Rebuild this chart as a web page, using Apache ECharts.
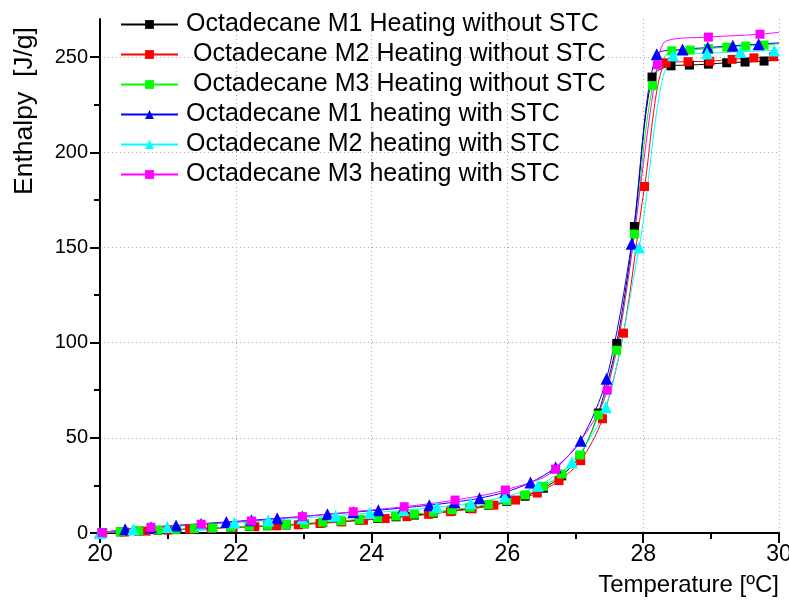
<!DOCTYPE html>
<html>
<head>
<meta charset="utf-8">
<script src="https://cdn.jsdelivr.net/npm/echarts@6/dist/echarts.min.js"></script>
<style>html,body{margin:0;padding:0;background:#fff}#c{width:789px;height:603px}</style>
</head>
<body>
<div id="c"></div>
<script>
// ---- data ----
const seriesNames = [
  'Octadecane M1 Heating without STC',
  ' Octadecane M2 Heating without STC',
  ' Octadecane M3 Heating without STC',
  'Octadecane M1 heating with STC',
  'Octadecane M2 heating with STC',
  'Octadecane M3 heating with STC'
];
// marker points
const m1NoX = [20.03,20.30,20.57,20.85,21.12,21.39,21.66,21.93,22.20,22.47,22.74,23.01,23.28,23.55,23.82,24.09,24.36,24.63,24.91,25.18,25.45,25.72,25.99,26.26,26.53,26.80,27.07,27.34,27.61,27.87,28.13,28.41,28.68,28.96,29.23,29.50,29.78];
const m1NoY = [0.2,0.6,1.0,1.4,1.8,2.2,2.6,3.0,3.4,3.8,4.2,4.8,5.4,6.1,6.8,7.6,8.5,9.4,10.4,11.6,12.9,14.6,16.6,19.3,23.5,30,40.5,63,99.6,161,239.5,245.4,245.8,246.3,247,247.4,247.9];
const m2NoX = [20.04,20.36,20.68,21.00,21.32,21.64,21.96,22.28,22.60,22.92,23.24,23.56,23.88,24.20,24.52,24.84,25.16,25.48,25.80,26.12,26.44,26.76,27.08,27.40,27.71,28.02,28.34,28.66,28.98,29.31,29.63,29.92];
const m2NoY = [0.1,0.5,1.0,1.5,2.0,2.4,2.9,3.3,3.8,4.3,5.0,5.8,6.7,7.6,8.6,9.8,11.2,12.7,14.6,17.3,21,27.5,38,60,105,182,247,247.6,247.8,248.8,249.6,250.2];
const m3NoX = [20.03,20.30,20.57,20.85,21.12,21.39,21.66,21.93,22.20,22.47,22.74,23.01,23.28,23.55,23.82,24.09,24.36,24.63,24.91,25.18,25.45,25.72,25.99,26.26,26.53,26.80,27.07,27.34,27.61,27.87,28.14,28.42,28.69,28.96,29.23,29.51,29.78];
const m3NoY = [0.2,0.7,1.1,1.5,1.9,2.3,2.7,3.1,3.6,4.0,4.4,5.0,5.7,6.4,7.2,8.0,8.9,9.9,10.9,12.2,13.5,14.9,17,20,24.5,31,41,62,96,157,235,253.3,253.7,254.5,255.2,255.8,256.3];
const m1StcX = [20.00,20.37,20.75,21.12,21.49,21.86,22.23,22.61,22.98,23.35,23.73,24.10,24.47,24.85,25.22,25.59,25.97,26.34,26.71,27.08,27.46,27.83,28.20,28.58,28.95,29.32,29.70];
const m1StcY = [0,2.0,3.0,4.0,4.9,5.8,6.7,7.7,8.7,9.8,10.9,12.0,13.2,14.6,16.2,18.3,21.5,26.5,34.5,48.5,81,152,251.5,254,255,256,256.8];
const m2StcX = [20.00,20.49,20.99,21.49,21.98,22.48,22.98,23.47,23.97,24.47,24.96,25.46,25.96,26.45,26.95,27.45,27.94,28.44,28.94,29.43,29.93];
const m2StcY = [0,2.0,3.2,4.3,5.4,6.6,7.8,9.1,10.5,12.0,13.6,15.6,19.0,24.8,37,66,150,251,252,252.8,253.5];
const m3StcX = [20.03,20.75,21.49,22.23,22.98,23.73,24.48,25.23,25.97,26.71,27.47,28.21,28.96,29.72];
const m3StcY = [0.2,3.0,4.6,6.3,8.6,11.2,13.8,17.3,22.6,33.5,75,246,260.5,262];

// points on the drawn curves that carry no marker (curve knee / curve end at 30 °C)
const curveOnlyX = [[30],[30],[30],[30],[30],[28.34,30]];
const curveOnlyY = [[248.5],[251],[257],[257.5],[254],[258.5,263]];

const xTicks = [20,22,24,26,28,30];
const yTicks = [0,50,100,150,200,250];
const yMinorTicks = [25,75,125,175,225];

const colors = ['#000000','#ff0000','#00ff00','#0000ff','#00ffff','#ff00ff'];
const symbols = ['rect','rect','rect','triangle','triangle','rect'];
const xs = [m1NoX,m2NoX,m3NoX,m1StcX,m2StcX,m3StcX];
const ys = [m1NoY,m2NoY,m3NoY,m1StcY,m2StcY,m3StcY];

function buildData(i){
  const pts = xs[i].map((v,k)=>({value:[v, ys[i][k]]}));
  curveOnlyX[i].forEach((v,k)=>pts.push({value:[v, curveOnlyY[i][k]], symbol:'none'}));
  pts.sort((a,b)=>a.value[0]-b.value[0]);
  return pts;
}

const chart = echarts.init(document.getElementById('c'));
const series = seriesNames.map((n,i)=>({
  name: n,
  type: 'line',
  data: buildData(i),
  smooth: 0.3,
  symbol: symbols[i],
  symbolSize: symbols[i]==='triangle' ? 12 : 9,
  showAllSymbol: true,
  clip: false,
  lineStyle: {color: colors[i], width: 1},
  itemStyle: {color: colors[i]},
  emphasis: {disabled: true},
  animation: false
}));

chart.setOption({
  animation: false,
  grid: {left: 100, right: 10, top: 19, bottom: 70, containLabel: false, outerBoundsMode: 'none'},
  legend: {
    orient: 'vertical',
    left: 115, top: 7,
    itemWidth: 57, itemHeight: 11, itemGap: 5,
    textStyle: {fontFamily: 'Liberation Sans, Arial', fontSize: 25, color: '#000', lineHeight: 24, padding: [0,0,0,3]},
    data: seriesNames
  },
  xAxis: {
    type: 'value', min: 20, max: 30, interval: 2,
    name: 'Temperature [ºC]',
    nameLocation: 'end', nameGap: 0,
    nameTextStyle: {fontFamily: 'Liberation Sans, Arial', fontSize: 24, color: '#000', align: 'right', verticalAlign: 'top', padding: [40,0,0,0]},
    axisLine: {lineStyle: {color: '#000', width: 2}},
    axisTick: {inside: false, length: 10, lineStyle: {color: '#000', width: 2}},
    minorTick: {show: true, splitNumber: 2, length: 6, lineStyle: {color: '#000', width: 2}},
    axisLabel: {fontFamily: 'Liberation Sans, Arial', fontSize: 23, color: '#000', margin: 10, customValues: xTicks},
    splitLine: {show: true, lineStyle: {color: '#aaa', type: [1,3], width: 1}}
  },
  yAxis: [{
    type: 'value', min: 0, max: 270,
    name: 'Enthalpy  [J/g]',
    nameLocation: 'middle', nameGap: 62,
    nameTextStyle: {fontFamily: 'Liberation Sans, Arial', fontSize: 26.5, color: '#000', padding: [0,0,0,330]},
    axisLine: {lineStyle: {color: '#000', width: 2}},
    axisTick: {inside: false, length: 10, lineStyle: {color: '#000', width: 2}, customValues: yTicks},
    axisLabel: {fontFamily: 'Liberation Sans, Arial', fontSize: 20, color: '#000', margin: 12, customValues: yTicks},
    splitLine: {show: true, lineStyle: {color: '#aaa', type: [1,3], width: 1}}
  },{
    type: 'value', min: 0, max: 270, position: 'left',
    axisLine: {show: false},
    axisTick: {inside: false, length: 6, lineStyle: {color: '#000', width: 2}, customValues: yMinorTicks},
    axisLabel: {show: false},
    splitLine: {show: false}
  }],
  series: series
});
</script>
</body>
</html>
